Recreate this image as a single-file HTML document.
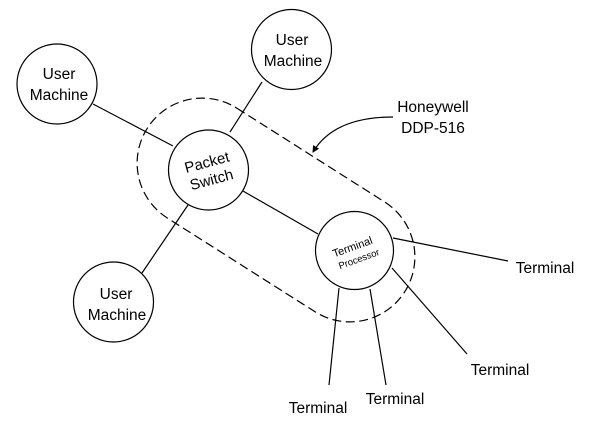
<!DOCTYPE html>
<html><head><meta charset="utf-8"><style>
html,body{margin:0;padding:0;background:#fff;}
svg{display:block;}
text{font-family:"Liberation Sans",sans-serif;fill:#000;}
</style></head><body>
<svg width="600" height="440" viewBox="0 0 600 440" xmlns="http://www.w3.org/2000/svg">
<defs>
<marker id="ah" markerWidth="8" markerHeight="8" refX="6" refY="4" orient="auto" markerUnits="userSpaceOnUse">
<path d="M0,0.5 L7,4 L0,7.5 Z" fill="#000"/>
</marker>
</defs>
<g stroke="#000" stroke-width="1.2" fill="none">
<line x1="93" y1="104" x2="173" y2="146"/>
<line x1="262" y1="82" x2="230" y2="132"/>
<line x1="188" y1="205" x2="142" y2="273"/>
<line x1="243" y1="191" x2="318" y2="234"/>
<line x1="393" y1="238" x2="508" y2="261"/>
<line x1="392" y1="268" x2="467" y2="354"/>
<line x1="370" y1="289" x2="386" y2="385"/>
<line x1="339" y1="288" x2="329" y2="385"/>
<rect x="-152.5" y="-65" width="305" height="130" rx="65" ry="65" stroke-dasharray="9,4.5" transform="translate(276,210) rotate(32.4)"/>
<path d="M393,117 Q334,117 313,152" marker-end="url(#ah)"/>
<circle cx="57" cy="84" r="40" fill="#fff"/>
<circle cx="291.5" cy="49.5" r="40" fill="#fff"/>
<circle cx="113.5" cy="302" r="40" fill="#fff"/>
<circle cx="208.5" cy="170" r="40" fill="#fff"/>
<circle cx="354.5" cy="250.5" r="39" fill="#fff"/>
</g>
<g font-size="15.5" text-anchor="middle">
<text x="59" y="79">User</text>
<text x="59" y="100">Machine</text>
<text x="292" y="45">User</text>
<text x="293" y="66">Machine</text>
<text x="116" y="299">User</text>
<text x="117" y="320">Machine</text>
<text x="433" y="112">Honeywell</text>
<text x="433" y="133">DDP-516</text>
<text x="545" y="273">Terminal</text>
<text x="500" y="375">Terminal</text>
<text x="395" y="404">Terminal</text>
<text x="318" y="413">Terminal</text>
</g>
<g font-size="15" text-anchor="middle" transform="translate(209,170) rotate(-15)">
<text x="0" y="-3">Packet</text>
<text x="0" y="15">Switch</text>
</g>
<g text-anchor="middle" transform="translate(355,251) rotate(-20)">
<text x="-1" y="-1" font-size="11">Terminal</text>
<text x="1" y="12" font-size="9.5">Processor</text>
</g>
</svg>
</body></html>
